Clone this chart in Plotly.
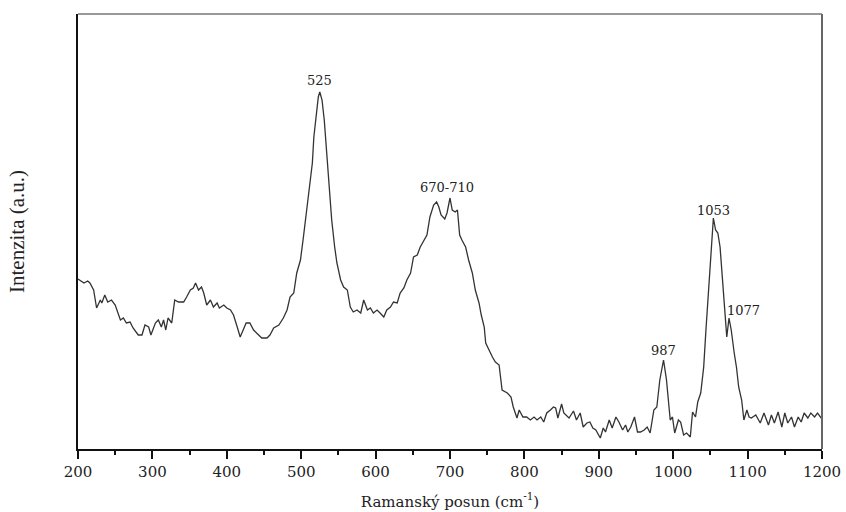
import plotly.graph_objects as go

# Raman shift (cm^-1) and intensity (a.u.)
wavenumber = [200, 205, 208, 213, 216, 221, 225, 230, 232, 236, 240, 245, 250, 257, 261, 265, 270, 274,
              281, 286, 290, 295, 298, 304, 308, 312, 315, 318, 321, 326, 330, 335, 342, 346, 351, 355,
              358, 362, 366, 369, 373, 378, 382, 387, 390, 396, 400, 405, 409, 414, 418, 422, 426, 431,
              436, 440, 447, 454, 458, 463, 470, 476, 481, 485, 490, 494, 499, 503, 508, 511, 515, 517,
              520, 523, 525, 528, 531, 535, 538, 541, 545, 548, 553, 557, 562, 566, 570, 575, 580, 584,
              589, 593, 597, 602, 606, 611, 615, 620, 624, 629, 633, 638, 642, 647, 651, 656, 660, 665,
              669, 673, 678, 682, 685, 688, 693, 696, 700, 703, 707, 710, 713, 716, 721, 725, 730, 734,
              739, 742, 746, 748, 752, 757, 761, 766, 770, 777, 782, 785, 790, 793, 798, 803, 808, 813,
              817, 822, 826, 830, 835, 839, 842, 845, 850, 853, 860, 866, 870, 875, 879, 884, 888, 892,
              896, 902, 906, 909, 914, 918, 923, 927, 932, 936, 939, 943, 948, 952, 956, 961, 965, 969,
              974, 978, 982, 987, 991, 996, 999, 1002, 1007, 1010, 1014, 1018, 1023, 1026, 1030, 1033,
              1037, 1041, 1044, 1047, 1050, 1052, 1054, 1057, 1060, 1063, 1066, 1069, 1072, 1075, 1078,
              1082, 1085, 1088, 1092, 1095, 1099, 1102, 1105, 1111, 1117, 1122, 1128, 1132, 1136, 1141,
              1146, 1150, 1154, 1159, 1163, 1168, 1172, 1176, 1181, 1185, 1190, 1194, 1199, 1200]
intensity = [170, 168, 166, 168, 166, 159, 141, 149, 146, 154, 147, 149, 144, 129, 131, 126, 127, 121,
             114, 114, 124, 122, 114, 126, 129, 122, 129, 119, 131, 126, 149, 147, 147, 152, 159, 161,
             166, 159, 162, 156, 144, 149, 142, 146, 141, 144, 141, 139, 134, 122, 112, 119, 126, 126,
             119, 116, 111, 111, 114, 121, 124, 131, 139, 152, 156, 176, 189, 212, 242, 257, 286, 312,
             336, 352, 357, 349, 329, 292, 259, 229, 202, 186, 169, 162, 159, 142, 137, 139, 136, 149,
             139, 141, 136, 139, 136, 132, 139, 142, 147, 146, 156, 161, 169, 176, 192, 194, 202, 209,
             214, 232, 244, 247, 242, 234, 230, 236, 251, 239, 237, 239, 214, 209, 202, 189, 176, 159,
             146, 134, 122, 106, 99, 92, 87, 84, 59, 56, 52, 42, 31, 39, 32, 32, 29, 32,
             29, 32, 27, 36, 39, 42, 41, 31, 45, 36, 31, 38, 29, 36, 22, 26, 27, 21,
             19, 11, 21, 17, 29, 21, 32, 27, 19, 24, 17, 22, 32, 17, 17, 19, 22, 16,
             39, 42, 69, 89, 69, 29, 32, 16, 29, 27, 14, 16, 12, 37, 32, 47,
             56, 82, 119, 152, 189, 212, 231, 219, 216, 202, 169, 136, 112, 131, 119,
             96, 82, 62, 49, 29, 39, 32, 31, 34, 26, 36, 24, 34, 26, 37,
             22, 36, 26, 32, 22, 32, 27, 36, 31, 36, 32, 36, 30, 30]

# peak labels: text, label x, label y (a.u.)
peak_labels = ["525", "670-710", "987", "1053", "1077"]
label_x = [525, 696, 987, 1054, 1095]
label_y = [369, 262, 99, 239, 139]

x_ticks = [200, 300, 400, 500, 600, 700, 800, 900, 1000, 1100, 1200]

fig = go.Figure()
fig.add_trace(go.Scatter(x=wavenumber, y=intensity, mode="lines",
                         line=dict(color="#333333", width=1.3), showlegend=False,
                         hoverinfo="skip"))

for t, lx, ly in zip(peak_labels, label_x, label_y):
    fig.add_annotation(x=lx, y=ly, text=t, showarrow=False, xanchor="center", yanchor="middle",
                       font=dict(family="DejaVu Serif", size=13, color="#222222"))

fig.update_layout(
    width=846, height=512,
    margin=dict(l=78, r=24, t=14, b=63),
    paper_bgcolor="white", plot_bgcolor="white",
    xaxis=dict(range=[200, 1200], tickvals=x_ticks, ticktext=[str(v) for v in x_ticks],
               automargin=False,
               showgrid=False, zeroline=False, showline=True, linecolor="#111111", linewidth=2,
               ticks="outside", ticklen=8, tickwidth=1.5, tickcolor="#111111",
               minor=dict(dtick=50, tick0=200, ticks="outside", ticklen=4, tickwidth=1.5,
                          tickcolor="#111111", showgrid=False),
               tickfont=dict(family="DejaVu Serif", size=15, color="#222222"),
               title=dict(text="Ramanský posun (cm<sup>-1</sup>)", standoff=16,
                          font=dict(family="DejaVu Serif", size=15, color="#222222"))),
    yaxis=dict(range=[0, 435], showticklabels=False, ticks="", showgrid=False, zeroline=False,
               automargin=False,
               showline=True, linecolor="#111111", linewidth=2,
               title=dict(text="Intenzita (a.u.)", standoff=46,
                          font=dict(family="Liberation Serif", size=21, color="#222222"))),
)

# top and right frame lines (grey)
fig.add_shape(type="line", xref="paper", yref="paper", x0=0, x1=1, y0=1, y1=1,
              line=dict(color="#777777", width=1.5))
fig.add_shape(type="line", xref="paper", yref="paper", x0=1, x1=1, y0=0, y1=1,
              line=dict(color="#666666", width=2))

fig.write_html("out.html", config={"displayModeBar": False},
               post_script="document.body.style.margin='0';document.body.style.overflow='hidden';")
